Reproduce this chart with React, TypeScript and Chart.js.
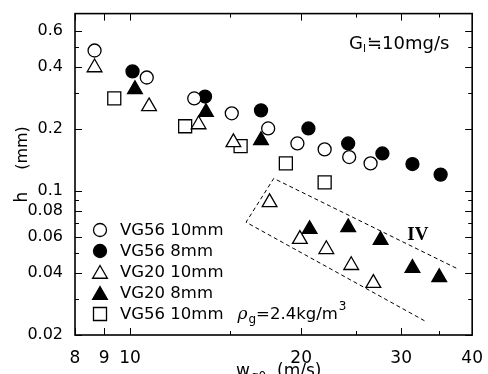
import React, { useEffect, useRef } from 'react';
import { Chart, registerables } from 'chart.js';

Chart.register(...registerables);

// ---- axis ticks ----
const xTicks = [8, 9, 10, 15, 20, 25, 30, 35, 40];
const xTickLabels = [8, 9, 10, 20, 30, 40];
const yTicks = [0.02, 0.03, 0.04, 0.05, 0.06, 0.07, 0.08, 0.09, 0.1, 0.2, 0.3, 0.4, 0.5, 0.6];
const yTickLabels = [0.02, 0.04, 0.06, 0.08, 0.1, 0.2, 0.4, 0.6];

// ---- series ----
const vg56_10_x = [8.66, 10.7, 12.97, 15.1, 17.5, 19.7, 22.0, 24.3, 26.5];
const vg56_10_y = [0.48, 0.355, 0.281, 0.238, 0.201, 0.17, 0.159, 0.146, 0.136];

const vg56_8_x = [10.1, 13.55, 17.0, 20.6, 24.2, 27.8, 31.4, 35.2];
const vg56_8_y = [0.38, 0.287, 0.246, 0.201, 0.17, 0.152, 0.135, 0.12];

const vg20_10_x = [8.66, 10.8, 13.2, 15.2, 17.6, 19.9, 22.15, 24.5, 26.8];
const vg20_10_y = [0.397, 0.257, 0.21, 0.172, 0.088, 0.0584, 0.0521, 0.0436, 0.0357];

const vg20_8_x = [10.2, 13.6, 17.0, 20.7, 24.2, 27.6, 31.4, 35.0];
const vg20_8_y = [0.311, 0.241, 0.176, 0.0652, 0.0665, 0.0577, 0.0422, 0.0381];

const vg56_10_rho_x = [9.38, 12.5, 15.65, 18.8, 22.0];
const vg56_10_rho_y = [0.281, 0.206, 0.165, 0.136, 0.11];

// dashed region IV outline
const regionIV_x = [37.5, 17.9, 16.0, 33.3];
const regionIV_y = [0.0422, 0.115, 0.0705, 0.0231];

const legendLabels = ['VG56 10mm', 'VG56 8mm', 'VG20 10mm', 'VG20 8mm', 'VG56 10mm'];

const zip = (xs: number[], ys: number[]) => xs.map((x, i) => ({ x, y: ys[i] }));

const FONT = 'DejaVu Sans';
const CIRCLE_R = 6.5;
const TRI_R = 8.5;
const RECT_R = 9.2;

function drawMarker(ctx: CanvasRenderingContext2D, kind: string, filled: boolean, x: number, y: number) {
  ctx.beginPath();
  if (kind === 'circle') {
    ctx.arc(x, y, CIRCLE_R, 0, Math.PI * 2);
  } else if (kind === 'triangle') {
    let rad = 0;
    ctx.moveTo(x + Math.sin(rad) * TRI_R, y - Math.cos(rad) * TRI_R);
    rad += (2 * Math.PI) / 3;
    ctx.lineTo(x + Math.sin(rad) * TRI_R, y - Math.cos(rad) * TRI_R);
    rad += (2 * Math.PI) / 3;
    ctx.lineTo(x + Math.sin(rad) * TRI_R, y - Math.cos(rad) * TRI_R);
    ctx.closePath();
  } else {
    const s = Math.SQRT1_2 * RECT_R;
    ctx.rect(x - s, y - s, 2 * s, 2 * s);
  }
  ctx.fillStyle = filled ? '#000' : '#fff';
  ctx.fill();
  ctx.lineWidth = 1.3;
  ctx.strokeStyle = '#000';
  ctx.stroke();
}

const decorPlugin = {
  id: 'decor',
  afterDraw(chart: any) {
    const { ctx, chartArea: a, scales } = chart;
    const xs = scales.x;
    const ys = scales.y;
    ctx.save();
    // frame
    ctx.strokeStyle = '#000';
    ctx.lineWidth = 1.6;
    ctx.strokeRect(a.left, a.top, a.right - a.left, a.bottom - a.top);
    // inner ticks
    ctx.lineWidth = 1;
    const seg = (x1: number, y1: number, x2: number, y2: number) => {
      ctx.beginPath();
      ctx.moveTo(x1, y1);
      ctx.lineTo(x2, y2);
      ctx.stroke();
    };
    for (const v of xTicks) {
      const px = Math.round(xs.getPixelForValue(v)) + 0.5;
      const len = xTickLabels.includes(v) ? 7 : 4;
      seg(px, a.bottom, px, a.bottom - len);
      seg(px, a.top, px, a.top + len);
    }
    for (const v of yTicks) {
      const py = Math.round(ys.getPixelForValue(v)) + 0.5;
      const len = yTickLabels.includes(v) ? 7 : 4;
      seg(a.left, py, a.left + len, py);
      seg(a.right, py, a.right - len, py);
    }

    ctx.fillStyle = '#000';
    ctx.textBaseline = 'alphabetic';

    // legend
    const legendKinds = [
      ['circle', false],
      ['circle', true],
      ['triangle', false],
      ['triangle', true],
      ['rect', false],
    ] as [string, boolean][];
    const rowY = [230, 251, 272, 293, 314];
    ctx.font = `16.5px "${FONT}"`;
    legendKinds.forEach(([k, f], i) => {
      const yy = rowY[i];
      drawMarker(ctx, k, f, 100, k === 'triangle' ? yy + 2 : yy);
      ctx.fillStyle = '#000';
      ctx.font = `16.5px "${FONT}"`;
      ctx.textBaseline = 'middle';
      ctx.fillText(legendLabels[i], 120, yy + 1);
    });
    // rho_g = 2.4 kg/m3
    {
      const yy = rowY[4] + 1;
      ctx.font = `16.5px "${FONT}"`;
      let cx = 120 + ctx.measureText(legendLabels[4]).width + 14;
      ctx.font = `italic 17px "DejaVu Serif"`;
      ctx.fillText('ρ', cx, yy);
      cx += ctx.measureText('ρ').width + 1;
      ctx.font = `12px "${FONT}"`;
      ctx.fillText('g', cx, yy + 5);
      cx += ctx.measureText('g').width;
      ctx.font = `16.5px "${FONT}"`;
      ctx.fillText('=2.4kg/m', cx, yy);
      cx += ctx.measureText('=2.4kg/m').width + 1;
      ctx.font = `12px "${FONT}"`;
      ctx.fillText('3', cx, yy - 8);
    }

    // G_l ≒ 10mg/s
    ctx.textBaseline = 'alphabetic';
    {
      let cx = 349;
      const by = 49;
      ctx.font = `18px "${FONT}"`;
      ctx.fillText('G', cx, by);
      cx += ctx.measureText('G').width;
      ctx.font = `11px "${FONT}"`;
      ctx.fillText('l', cx, by + 3);
      cx += ctx.measureText('l').width + 1;
      ctx.font = `18px "${FONT}"`;
      ctx.fillText('≒10mg/s', cx, by);
    }

    // region label IV
    ctx.font = `bold 19px "Liberation Serif"`;
    ctx.textAlign = 'center';
    ctx.textBaseline = 'middle';
    ctx.fillText('IV', xs.getPixelForValue(32.1), ys.getPixelForValue(0.061));

    // y axis title
    ctx.save();
    ctx.translate(23, 0);
    ctx.rotate(-Math.PI / 2);
    ctx.font = `17px "${FONT}"`;
    ctx.textAlign = 'center';
    ctx.textBaseline = 'middle';
    ctx.fillText('h', -197, 0);
    ctx.font = `16px "${FONT}"`;
    ctx.fillText('(mm)', -148, 0);
    ctx.restore();

    // x axis title
    ctx.textAlign = 'left';
    ctx.textBaseline = 'alphabetic';
    {
      let cx = 236;
      const by = 376;
      ctx.font = `17px "${FONT}"`;
      ctx.fillText('w', cx, by);
      cx += ctx.measureText('w').width + 1;
      ctx.font = `12px "${FONT}"`;
      ctx.fillText('g0', cx, by + 4);
      ctx.font = `17px "${FONT}"`;
      ctx.fillText('(m/s)', 277, by);
    }
    ctx.restore();
  },
};

export default function App() {
  const ref = useRef<HTMLCanvasElement | null>(null);
  useEffect(() => {
    document.body.style.margin = '0';
    const canvas = ref.current;
    if (!canvas) return;
    const pointBase = { borderColor: '#000', borderWidth: 1.3, showLine: false };
    const chart = new Chart(canvas, {
      type: 'scatter',
      data: {
        datasets: [
          {
            label: 'IV',
            data: zip(regionIV_x, regionIV_y),
            showLine: true,
            borderColor: '#000',
            borderWidth: 1,
            borderDash: [4, 3],
            pointRadius: 0,
            fill: false,
          } as any,
          { ...pointBase, label: legendLabels[0], data: zip(vg56_10_x, vg56_10_y), pointStyle: 'circle', pointRadius: CIRCLE_R, backgroundColor: '#fff' },
          { ...pointBase, label: legendLabels[1], data: zip(vg56_8_x, vg56_8_y), pointStyle: 'circle', pointRadius: CIRCLE_R, backgroundColor: '#000' },
          { ...pointBase, label: legendLabels[2], data: zip(vg20_10_x, vg20_10_y), pointStyle: 'triangle', pointRadius: TRI_R, backgroundColor: '#fff' },
          { ...pointBase, label: legendLabels[3], data: zip(vg20_8_x, vg20_8_y), pointStyle: 'triangle', pointRadius: TRI_R, backgroundColor: '#000' },
          { ...pointBase, label: 'VG56 10mm rho', data: zip(vg56_10_rho_x, vg56_10_rho_y), pointStyle: 'rect', pointRadius: RECT_R, backgroundColor: '#fff' },
        ],
      },
      options: {
        animation: false,
        responsive: false,
        devicePixelRatio: 1,
        layout: { padding: { left: 0, right: 10, top: 13, bottom: 0 } },
        plugins: { legend: { display: false }, tooltip: { enabled: false } },
        scales: {
          x: {
            type: 'logarithmic',
            min: 8,
            max: 40,
            grid: { display: false },
            border: { display: false },
            afterBuildTicks: (s: any) => {
              s.ticks = xTicks.map((v) => ({ value: v }));
            },
            afterFit: (s: any) => {
              s.height = 39;
            },
            ticks: {
              autoSkip: false,
              maxRotation: 0,
              padding: 5,
              color: '#000',
              font: { family: FONT, size: 17 },
              callback: (v: any) => (xTickLabels.includes(Number(v)) ? String(v) : ''),
            },
          },
          y: {
            type: 'logarithmic',
            min: 0.02,
            max: 0.725,
            grid: { display: false },
            border: { display: false },
            afterBuildTicks: (s: any) => {
              s.ticks = yTicks.map((v) => ({ value: v }));
            },
            afterFit: (s: any) => {
              s.width = 75;
            },
            ticks: {
              autoSkip: false,
              padding: 4,
              color: '#000',
              font: { family: FONT, size: 16 },
              callback: (v: any) => (yTickLabels.includes(Number(v)) ? String(v) : ''),
            },
          },
        },
      },
      plugins: [decorPlugin],
    });
    return () => chart.destroy();
  }, []);
  return (
    <div style={{ width: 488, height: 374 }}>
      <canvas ref={ref} width={488} height={374} style={{ display: 'block' }} />
    </div>
  );
}
